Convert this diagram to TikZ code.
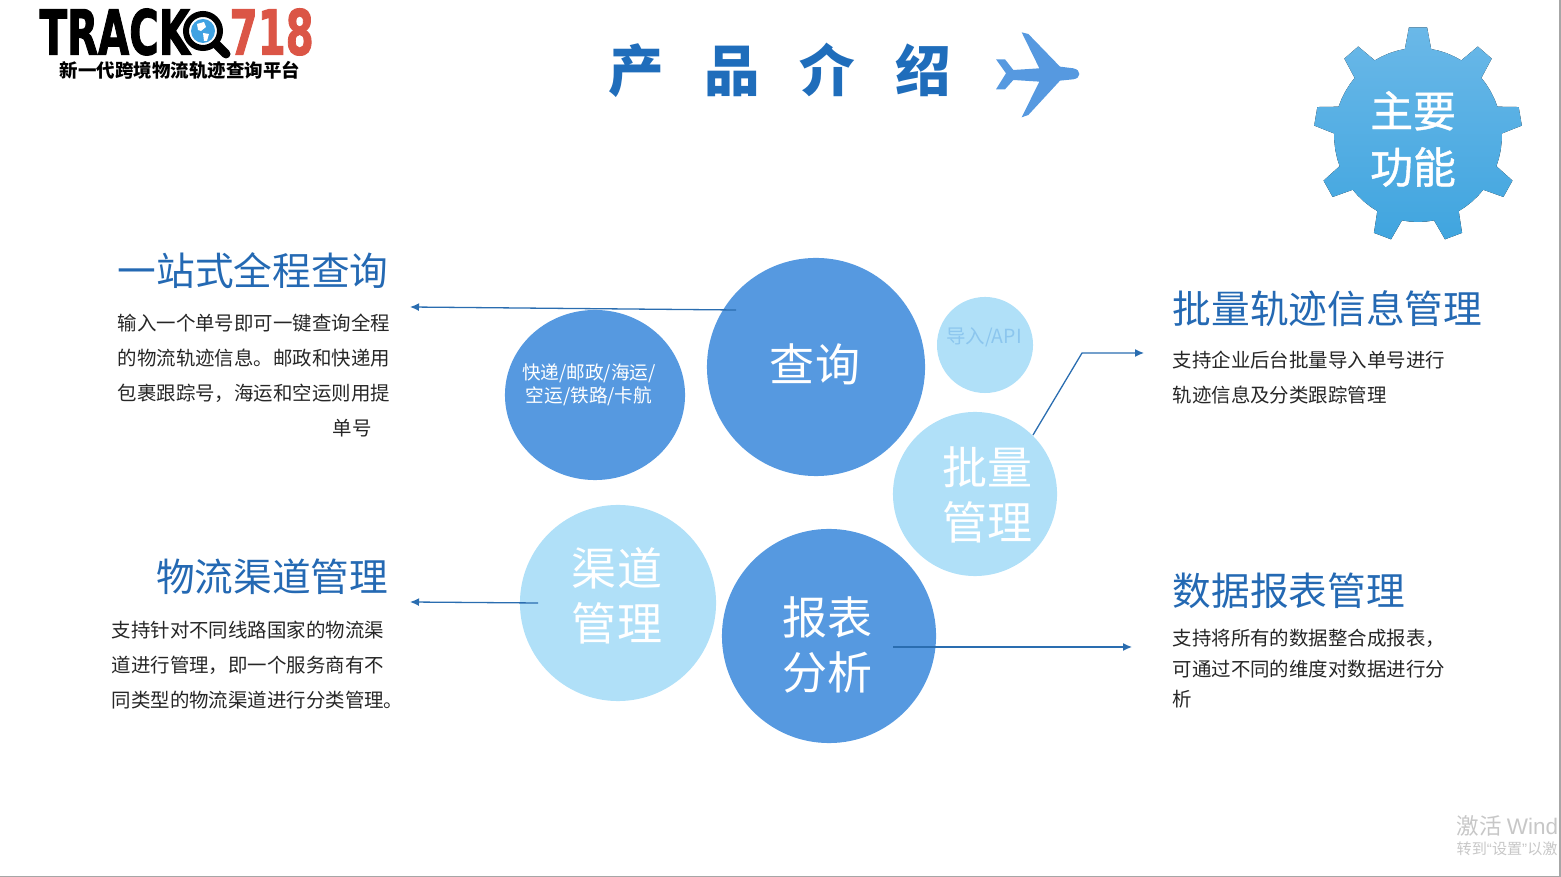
\documentclass[tikz,border=0pt]{standalone}
\usepackage{fontspec}
\setmainfont{Noto Sans CJK SC}
\newfontfamily\logofont[FakeBold=2]{DejaVu Sans Bold}
\newfontfamily\markfont{Liberation Sans}
\newfontfamily\gearfont[FakeBold=1]{Noto Sans CJK SC}
\usetikzlibrary{arrows.meta,shapes.geometric}
\definecolor{darkball}{HTML}{5699E0}
\definecolor{lightball}{HTML}{B0E0F8}
\definecolor{headblue}{HTML}{2469B3}
\definecolor{titleblue}{HTML}{1F6DBB}
\definecolor{arrowblue}{HTML}{2A6DB0}
\definecolor{logored}{HTML}{DB5546}
\definecolor{gearblue}{HTML}{6AB8E8}
\definecolor{geardeep}{HTML}{40A5DF}
\definecolor{globeblue}{HTML}{3FA2E2}
\definecolor{faintblue}{HTML}{8CC6EE}
\tikzset{
	ball/.style={circle, inner sep=0pt, minimum size=#1},
	balltext/.style={inner sep=0pt, align=center, text=white, font=\fontsize{12.8}{15.5}\selectfont},
	heading/.style={inner sep=0pt, text=headblue, font=\fontsize{11}{13}\selectfont},
	para/.style={inner sep=0pt, anchor=west, text=black!85, font=\fontsize{5.53}{6.5}\selectfont},
	pointer/.style={arrowblue, line width=0.13mm, -{Latex[length=0.09cm, width=0.08cm]}},
}

\begin{document}
\begin{tikzpicture}[x=0.01cm, y=-0.01cm]
		%%%%% START %%%%%
		\useasboundingbox (0, 0) rectangle (1561, 877);
		
		% logo
		\node[inner sep=0pt, anchor=west, font=\logofont\fontsize{17.6}{18}\selectfont] (logotrack) at (39, 32) {\scalebox{0.65}[1]{TRACK}};
		\node[inner sep=0pt, anchor=west, text=logored, font=\logofont\fontsize{17.6}{18}\selectfont] (logonum) at (229, 32) {\scalebox{0.65}[1]{718}};
		\draw[line width=0.9mm, line cap=round] (216, 44) -- (226, 54);
		\draw[fill=white, line width=0.6mm] (203, 31) circle (17);
		\fill[globeblue] (203, 31) circle (12);
		\fill[white] (197, 24) -- (204, 22) -- (206, 27) -- (201, 31) -- (198, 30) -- cycle;
		\fill[white] (203, 33) -- (209, 34) -- (207, 41) -- (204, 41) -- cycle;
		\node[inner sep=0pt, font=\bfseries\fontsize{5.25}{6}\selectfont] (logosub) at (180, 70) {新一代跨境物流轨迹查询平台};
		
		% title and plane
		\node[inner sep=0pt, text=titleblue, font=\bfseries\fontsize{15.8}{18}\selectfont] (title) at (780, 70) {产\hspace{0.4cm}品\hspace{0.4cm}介\hspace{0.4cm}绍};
		\fill[darkball, shift={(980, 20)}, scale=0.3333] (125, 37) -- (145, 42) -- (240, 140) -- (280, 145) .. controls (292, 148) and (298, 153) .. (298, 162) .. controls (298, 170) and (292, 176) .. (280, 178) -- (240, 182) -- (145, 285) -- (125, 292) -- (178, 185) -- (100, 180) -- (75, 208) -- (48, 208) -- (78, 160) -- (48, 118) -- (75, 118) -- (100, 150) -- (178, 145) -- cycle;
		
		% gear
		\fill[shift={(1418, 135)}, xscale=0.965, top color=gearblue, bottom color=geardeep] (-100:87) \foreach \a in {-90,-50,...,230} {-- (\a-9:87) -- (\a-5:108) -- (\a+5:108) -- (\a+9:87) -- (\a+14:87) -- (\a+20:87) -- (\a+26:87)} -- cycle;
		\node[inner sep=0pt, align=center, text=white, font=\gearfont\fontsize{12.2}{16}\selectfont] (gearlabel) at (1413, 139) {主要\\功能};
		
		% balls
		\node[ellipse, inner sep=0pt, minimum width=1.80cm, minimum height=1.70cm, fill=darkball] (kinds) at (595, 395) {};
		\node[ball=2.18cm, fill=darkball] (query) at (816, 367) {};
		\node[ball=0.96cm, fill=lightball] (import) at (985, 345) {};
		\node[ball=1.64cm, fill=lightball] (batch) at (975, 494) {};
		\node[ball=1.96cm, fill=lightball] (channel) at (618, 603) {};
		\node[ball=2.14cm, fill=darkball] (report) at (829, 636) {};
		
		\node[balltext, font=\fontsize{5.3}{6.6}\selectfont] (kindslabel) at (589, 385) {快递/邮政/海运/\\空运/铁路/卡航};
		\node[balltext] (querylabel) at (815, 364) {查询};
		\node[balltext, text=faintblue, font=\fontsize{5.53}{6.5}\selectfont] (importlabel) at (984, 337) {导入/API};
		\node[balltext] (batchlabel) at (987, 495) {批量\\管理};
		\node[balltext] (channellabel) at (617, 596) {渠道\\管理};
		\node[balltext] (reportlabel) at (827, 645) {报表\\分析};
		
		% free ends of the pointers
		\coordinate (querystart) at (736, 310);
		\coordinate (queryend) at (410, 307);
		\coordinate (batchstart) at (1033, 435);
		\coordinate (batchbend) at (1082, 353);
		\coordinate (batchend) at (1144, 353);
		\coordinate (channelstart) at (538, 603);
		\coordinate (channelend) at (410, 602);
		\coordinate (reportstart) at (893, 647);
		\coordinate (reportend) at (1132, 647);
		\draw[pointer] (querystart) -- (queryend);
		\draw[pointer] (batchstart) -- (batchbend) -- (batchend);
		\draw[pointer] (channelstart) -- (channelend);
		\draw[pointer] (reportstart) -- (reportend);
		
		% left texts
		\node[heading, anchor=west] (queryhead) at (117, 271) {一站式全程查询};
		\node[para] (queryline1) at (117, 323) {输入一个单号即可一键查询全程};
		\node[para] (queryline2) at (117, 358) {的物流轨迹信息。邮政和快递用};
		\node[para] (queryline3) at (117, 393) {包裹跟踪号，海运和空运则用提};
		\node[para] (queryline4) at (332, 428) {单号};
		
		\node[heading, anchor=east] (channelhead) at (389, 577) {物流渠道管理};
		\node[para] (channelline1) at (111, 630) {支持针对不同线路国家的物流渠};
		\node[para] (channelline2) at (111, 665) {道进行管理，即一个服务商有不};
		\node[para] (channelline3) at (111, 700) {同类型的物流渠道进行分类管理。};
		
		% right texts
		\node[heading, anchor=west] (batchhead) at (1172, 309) {批量轨迹信息管理};
		\node[para] (batchline1) at (1172, 360) {支持企业后台批量导入单号进行};
		\node[para] (batchline2) at (1172, 395) {轨迹信息及分类跟踪管理};
		
		\node[heading, anchor=west] (reporthead) at (1172, 591) {数据报表管理};
		\node[para] (reportline1) at (1172, 638) {支持将所有的数据整合成报表，};
		\node[para] (reportline2) at (1172, 669) {可通过不同的维度对数据进行分};
		\node[para] (reportline3) at (1172, 699) {析};
		
		% watermark and window edge
		\begin{scope}
			\clip (1400, 800) rectangle (1559, 870);
			\node[inner sep=0pt, anchor=west, text=black!22, font=\fontsize{6.4}{7}\selectfont] (markline1) at (1456, 826) {激活 {\markfont Windo}};
			\node[inner sep=0pt, anchor=west, text=black!22, font=\fontsize{4.3}{5}\selectfont] (markline2) at (1456, 849) {转到{\markfont “}设置{\markfont ”}以激};
		\end{scope}
		\fill[black!35] (1559, 0) rectangle (1561, 877);
		\fill[black!35] (0, 876) rectangle (1561, 877);
		
		%%%%% END %%%%%
	\end{tikzpicture}
\end{document}
